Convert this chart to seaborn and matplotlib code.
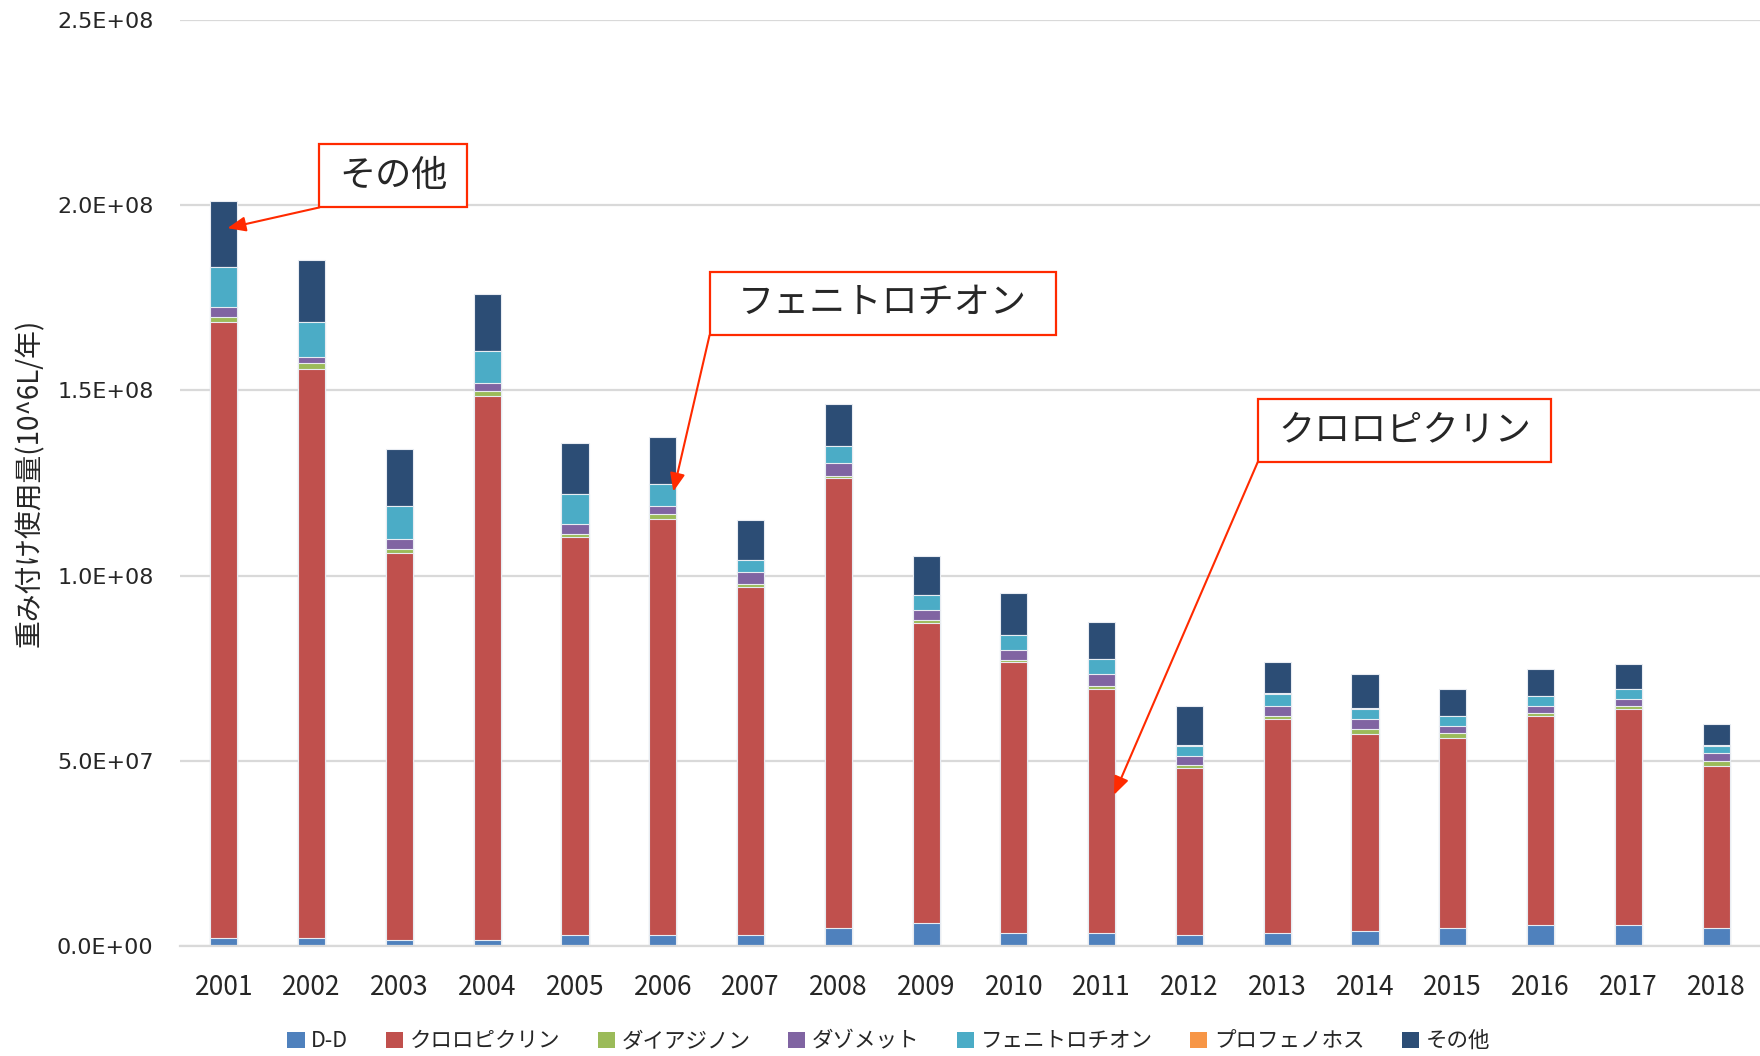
import matplotlib
matplotlib.use("Agg")
import matplotlib.pyplot as plt
from matplotlib.patches import Patch, Rectangle
from matplotlib.ticker import FuncFormatter
import seaborn as sns
import numpy as np
import pandas as pd

# values, in units of 10^6
years = [str(y) for y in range(2001, 2019)]
dd = [2.2, 2.2, 1.5, 1.5, 2.9, 2.9, 3.0, 4.9, 6.1, 3.4, 3.4, 2.9, 3.4, 4.1, 4.85, 5.6, 5.6, 4.85]
chloropicrin = [166.3, 153.7, 104.5, 147.0, 107.6, 112.4, 93.9, 121.4, 81.2, 73.2, 66.0, 45.2,
                57.9, 53.2, 51.3, 56.5, 58.4, 43.8]
diazinon = [1.3, 1.4, 1.3, 1.4, 0.8, 1.4, 0.8, 0.7, 0.8, 0.7, 0.7, 0.7, 0.8, 1.35, 1.25, 0.7, 0.8, 1.4]
dazomet = [2.7, 1.8, 2.7, 2.0, 2.5, 2.0, 3.2, 3.3, 2.65, 2.6, 3.4, 2.6, 2.7, 2.7, 2.0, 2.0, 2.0, 2.0]
fenitrothion = [10.8, 9.4, 8.7, 8.7, 8.2, 6.0, 3.3, 4.7, 3.95, 4.0, 3.9, 2.7, 3.3, 2.7, 2.7, 2.6, 2.6, 2.0]
profenofos = [0.1, 0.1, 0.1, 0.1, 0.1, 0.1, 0.1, 0.1, 0.1, 0.1, 0.1, 0.1, 0.1, 0.1, 0.1, 0.1, 0.1, 0.1]
others = [17.8, 16.6, 15.3, 15.3, 13.8, 12.6, 10.8, 11.3, 10.6, 11.3, 10.0, 10.6, 8.5, 9.3, 7.3, 7.3, 6.6, 5.9]

names = ["D-D", "クロロピクリン", "ダイアジノン", "ダゾメット", "フェニトロチオン", "プロフェノホス", "その他"]
colors = ["#4F81BD", "#C0504D", "#9BBB59", "#8064A2", "#4BACC6", "#F79646", "#2C4D75"]
series = [dd, chloropicrin, diazinon, dazomet, fenitrothion, profenofos, others]

df = pd.DataFrame({n: np.array(s) * 1e6 for n, s in zip(names, series)}, index=years)
cum = df.cumsum(axis=1)

sns.set_style("white")
plt.rcParams["font.family"] = ["Noto Sans CJK JP", "DejaVu Sans"]

fig = plt.figure(figsize=(17.6, 10.56), dpi=100)
ax = fig.add_axes([180 / 1760, 1 - 946 / 1056, 1 - 180 / 1760, (946 - 20) / 1056])

# stacked bars: draw cumulative totals from the top layer down
for name, color in reversed(list(zip(names, colors))):
    sns.barplot(x=years, y=cum[name].values, color=color, width=0.31, ax=ax,
                edgecolor="#E8ECF2", linewidth=0.8, saturation=1, errorbar=None)

ax.set_xlim(-0.5, 17.5)
ax.set_ylim(0, 2.5e8)
ax.set_yticks(np.arange(0, 2.51e8, 5e7))
ax.yaxis.set_major_formatter(FuncFormatter(lambda v, p: f"{v:.1E}"))
ax.grid(axis="y", color="#D9D9D9", linewidth=1.6)
ax.set_axisbelow(True)
for s in ["top", "right", "left"]:
    ax.spines[s].set_visible(False)
ax.spines["bottom"].set_color("#D9D9D9")
ax.spines["bottom"].set_linewidth(1.6)
ax.tick_params(axis="y", length=0, pad=19, labelsize=16)
ax.tick_params(axis="x", length=0, pad=20, labelsize=19)
for lab in ax.get_yticklabels():
    lab.set_fontfamily("DejaVu Sans")
ax.set_xlabel("")
ax.set_ylabel("")

fig.text(0.017, 0.543, "重み付け使用量(10^6L/年)", rotation=90, ha="center", va="center", fontsize=20)

# callouts: text, box (x0, x1, y_bottom, y_top), arrow tip
red = "#FF2A00"
callouts = [
    ("その他", (1.089, 2.765, 1.994e8, 2.166e8), (0.04, 1.938e8)),
    ("フェニトロチオン", (5.533, 9.477, 1.649e8, 1.821e8), (5.12, 1.227e8)),
    ("クロロピクリン", (11.779, 15.118, 1.307e8, 1.476e8), (10.14, 0.408e8)),
]
for text, (x0, x1, y0, y1), tip in callouts:
    ax.add_patch(Rectangle((x0, y0), x1 - x0, y1 - y0, fc="white", ec=red, lw=1.6, zorder=5))
    ax.text((x0 + x1) / 2, (y0 + y1) / 2, text, ha="center", va="center", fontsize=26, zorder=6)
    ax.annotate("", xy=tip, xytext=(x0, y0), zorder=6,
                arrowprops=dict(arrowstyle="-|>,head_length=1.1,head_width=0.45", color=red, lw=1.5,
                                shrinkA=0, shrinkB=0))

handles = [Patch(facecolor=c, edgecolor="none") for c in colors]
fig.legend(handles, names, loc="center", bbox_to_anchor=(0.505, 0.014), ncol=7, frameon=False,
           fontsize=15.5, handlelength=0.8, handleheight=0.8, handletextpad=0.3, columnspacing=1.75)

fig.savefig("out.png", dpi=100)
